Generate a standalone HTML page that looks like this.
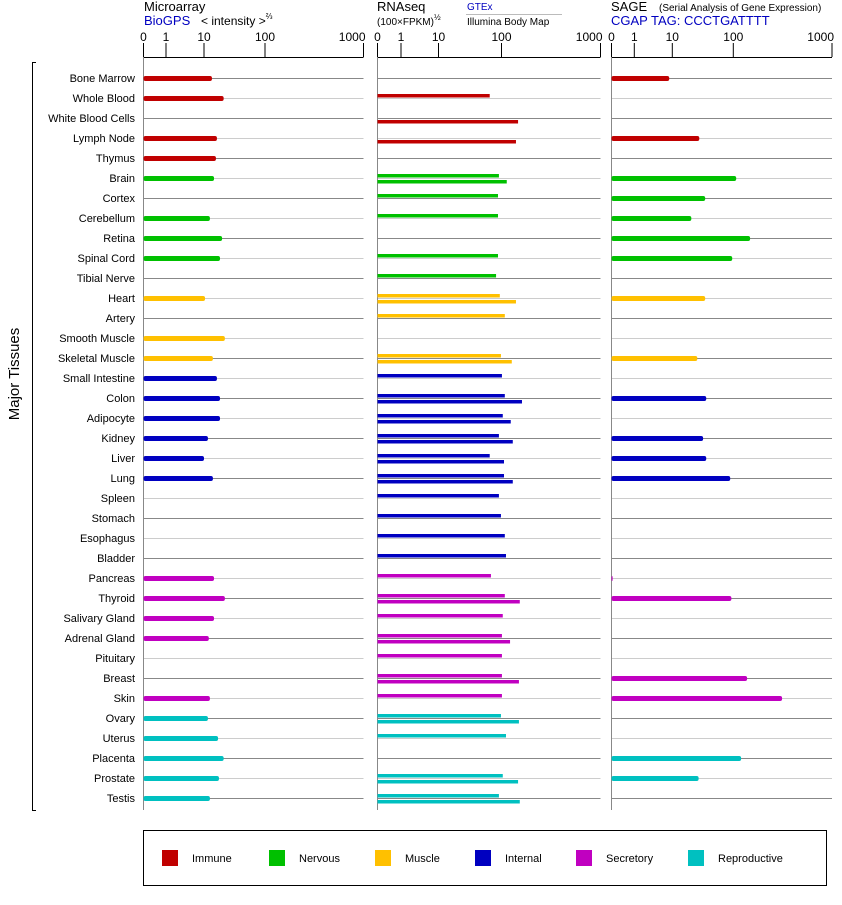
<!DOCTYPE html>
<html><head><meta charset="utf-8"><style>
body{margin:0;background:#fff;font-family:"Liberation Sans",sans-serif}
svg text{font-family:"Liberation Sans",sans-serif}
</style></head><body>
<svg id="c" width="842" height="900" xmlns="http://www.w3.org/2000/svg">
<g>
<text x="144" y="11" font-size="13">Microarray</text>
<text x="144" y="25" font-size="13" fill="#0000c0">BioGPS</text>
<text x="201" y="25" font-size="12">&lt; intensity &gt;<tspan font-size="8" dy="-6">⅔</tspan></text>
<text x="377" y="11" font-size="13">RNAseq</text>
<text x="377" y="25" font-size="10">(100×FPKM)<tspan font-size="8" dy="-5">½</tspan></text>
<text x="467" y="10" font-size="10" fill="#0000c0">GTEx</text>
<line x1="466" y1="14.5" x2="562" y2="14.5" stroke="#bbb" stroke-width="1"/>
<text x="467" y="25" font-size="10">Illumina Body Map</text>
<text x="611" y="11" font-size="13">SAGE</text>
<text x="659" y="11" font-size="10">(Serial Analysis of Gene Expression)</text>
<text x="611" y="25" font-size="13" fill="#0000c0">CGAP TAG: CCCTGATTTT</text>
</g>
<g>
<path d="M36,62.5 H32.5 V810.5 H36" fill="none" stroke="#000" stroke-width="1"/>
<text x="19" y="374" font-size="15" text-anchor="middle" transform="rotate(-90 19 374)">Major Tissues</text>
</g>
<g id="plot"></g>
<g>
<rect x="143.5" y="830.5" width="683" height="55" fill="none" stroke="#000"/>
<g id="leg"></g>
</g>
</svg>
<script>
const tissues=["Bone Marrow","Whole Blood","White Blood Cells","Lymph Node","Thymus","Brain","Cortex","Cerebellum","Retina","Spinal Cord","Tibial Nerve","Heart","Artery","Smooth Muscle","Skeletal Muscle","Small Intestine","Colon","Adipocyte","Kidney","Liver","Lung","Spleen","Stomach","Esophagus","Bladder","Pancreas","Thyroid","Salivary Gland","Adrenal Gland","Pituitary","Breast","Skin","Ovary","Uterus","Placenta","Prostate","Testis"];
const groups=[0,0,0,0,0,1,1,1,1,1,1,2,2,2,2,3,3,3,3,3,3,3,3,3,3,4,4,4,4,4,4,4,5,5,5,5,5];
const groupNames=["Immune","Nervous","Muscle","Internal","Secretory","Reproductive"];
const groupColors=["#c00000","#00c000","#ffc000","#0000c0","#c000c0","#00c0c0"];
const tickLabels=["0","1","10","100","1000"];
const microarray=[13.5,21,null,16.3,15.7,14.6,null,12.5,19.8,18.3,null,10.4,null,22,14,16.3,18.3,18.3,11.6,10,14,null,null,null,null,14.6,22,14.6,12,null,null,12.5,11.6,17,21,17.6,12.5];
const gtex=[null,65,null,null,null,91,88,88,null,88,82,94,108,null,98,101,108,103,91,65,106,91,98,108,111,68,108,103,101,101,101,101,98,111,null,103,91];
const illumina=[null,null,147,140,null,113,null,null,null,null,null,140,null,null,127,null,161,124,130,106,130,null,null,null,null,null,153,null,122,null,150,null,150,null,null,147,153];
const sage=[8.3,null,null,27.7,null,107,34.6,20.5,148,96,null,34.6,null,null,25.7,null,36,null,32,36,89,null,null,null,null,0.05,93,null,null,null,138,312,null,null,120,27,null];

const NS="http://www.w3.org/2000/svg";
const plot=document.getElementById('plot');
function el(tag,attrs,parent){const e=document.createElementNS(NS,tag);for(const k in attrs)e.setAttribute(k,attrs[k]);(parent||plot).appendChild(e);return e;}
function makeScale(t){return v=>{if(v<=1)return t[0]+v*(t[1]-t[0]);const l=Math.log10(v);const i=Math.min(Math.floor(l),2);return t[i+1]+(l-i)*(t[i+2]-t[i+1]);};}
const panels=[{name:'microarray',ticks:[143.5,166,204,265,363.5]},{name:'rnaseq',ticks:[377.5,401,438.5,501.5,600.5]},{name:'sage',ticks:[611.5,634.3,672.3,733.3,832]}];
panels.forEach(p=>p.x=makeScale(p.ticks));
const rowY=i=>78+i*20;
const axisY=57;

panels.forEach(p=>{
  const g=el('g',{});
  
  
  const x0=p.ticks[0],x1=p.ticks[4];
  tissues.forEach((t,i)=>{
    const ln=el('line',{x1:x0,x2:x1,y1:rowY(i)+0.5,y2:rowY(i)+0.5,stroke:i%2?'#cccccc':'#888888','stroke-width':1},g);
    
    
  });
  const ax=el('line',{x1:x0,x2:x1,y1:axisY+0.5,y2:axisY+0.5,stroke:'#000','stroke-width':1},g);
  
  
  const va=el('line',{x1:x0,x2:x0,y1:axisY,y2:810,stroke:'#888','stroke-width':1},g);
  
  
  tickLabels.forEach((lab,k)=>{
    const xv=p.ticks[k];
    el('line',{x1:xv,x2:xv,y1:43,y2:axisY,stroke:'#000','stroke-width':1},g);
    const tx=el('text',{x:k===4?xv+2:xv,y:41,'font-size':12,'text-anchor':k===4?'end':'middle'},g);
    tx.textContent=lab;
    
    
  });
});
tissues.forEach((t,i)=>{
  const tx=el('text',{x:135,y:rowY(i)+4,'font-size':11,'text-anchor':'end'});
  tx.textContent=t;
  
  
});
function bar(p,v,i,y,h,round){
  if(v==null)return;
  const x0=p.ticks[0],w=Math.max(p.x(v)-x0,1);
  const r=el('rect',{x:x0,y:y,width:w,height:h,fill:groupColors[groups[i]],rx:round?2:0});
  
  
}
tissues.forEach((t,i)=>{
  const y=rowY(i);
  bar(panels[0],microarray[i],i,y-2,5,true);
  bar(panels[1],gtex[i],i,y-4,3.5,false);
  bar(panels[1],illumina[i],i,y+2,3.5,false);
  bar(panels[2],sage[i],i,y-2,5,true);
});
const leg=document.getElementById('leg');
const legSq=[162,269,375,475,576,688],legTx=[192,299,405,505,606,718];
groupNames.forEach((n,k)=>{
  const r=el('rect',{x:legSq[k],y:850,width:16,height:16,fill:groupColors[k]},leg);
  
  
  const tx=el('text',{x:legTx[k],y:862,'font-size':11},leg);
  tx.textContent=n;
  
  
});
</script>
</body></html>
